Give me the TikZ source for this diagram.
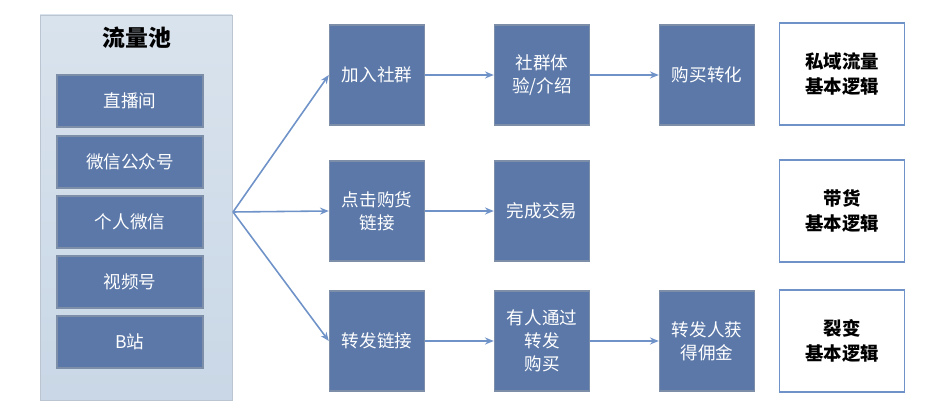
\documentclass[tikz,border=0pt]{standalone}
\usepackage{fontspec}
\setmainfont{Noto Sans CJK SC}
\usetikzlibrary{arrows.meta}
\definecolor{bx}{HTML}{5B78A8}
\definecolor{bxd}{HTML}{7D8FA8}
\definecolor{pan}{HTML}{C9D7E6}
\definecolor{ln}{HTML}{6F93C8}
\begin{document}
\begin{tikzpicture}[x=0.02cm,y=-0.02cm,
  blk/.style={draw=bxd,line width=0.8pt,fill=bx,text=white,font=\fontsize{10}{13}\selectfont,align=center,inner sep=0pt},
  rbox/.style={draw=ln,line width=1pt,fill=white,font=\bfseries\fontsize{10.5}{14}\selectfont,align=center,inner sep=0pt},
  arr/.style={draw=ln,line width=0.9pt,-{Stealth[length=5pt,width=4pt]}}]
\useasboundingbox (0,0) rectangle (931,408);
\shade[top color=pan!70!white,bottom color=pan,draw=pan!80!gray] (40,15) rectangle (232,400);
\node[font=\bfseries\fontsize{13}{15}\selectfont] (title) at (137,38) {流量池};
\foreach \n/\y/\t in {a/101/直播间,b/162/微信公众号,c/222/个人微信,d/282/视频号,e/342/B站}
  \node[blk,minimum width=146*0.02cm,minimum height=52*0.02cm] (\n) at (130,\y) {\t};
\coordinate (fan) at (233,212);
\tikzset{mb/.style={blk,minimum width=95*0.02cm,minimum height=100*0.02cm}}
\node[mb] (m1) at (377,75) {加入社群};
\node[mb] (m2) at (377,211) {点击购货\\链接};
\node[mb] (m3) at (377,341) {转发链接};
\node[mb] (n1) at (542,75) {社群体\\验/介绍};
\node[mb] (n2) at (542,211) {完成交易};
\node[mb] (n3) at (542,341) {有人通过\\转发\\购买};
\node[mb] (o1) at (707,75) {购买转化};
\node[mb] (o3) at (707,341) {转发人获\\得佣金};
\tikzset{rb/.style={rbox,minimum width=125*0.02cm,minimum height=102*0.02cm}}
\node[rb] (r1) at (842,74) {私域流量\\基本逻辑};
\node[rb] (r2) at (842,211) {带货\\基本逻辑};
\node[rb] (r3) at (842,341) {裂变\\基本逻辑};
\draw[arr] (fan) -- (m1.west);
\draw[arr] (fan) -- (m2.west);
\draw[arr] (fan) -- (m3.west);
\draw[arr] (m1) -- (n1);
\draw[arr] (n1) -- (o1);
\draw[arr] (m2) -- (n2);
\draw[arr] (m3) -- (n3);
\draw[arr] (n3) -- (o3);
\end{tikzpicture}
\end{document}
